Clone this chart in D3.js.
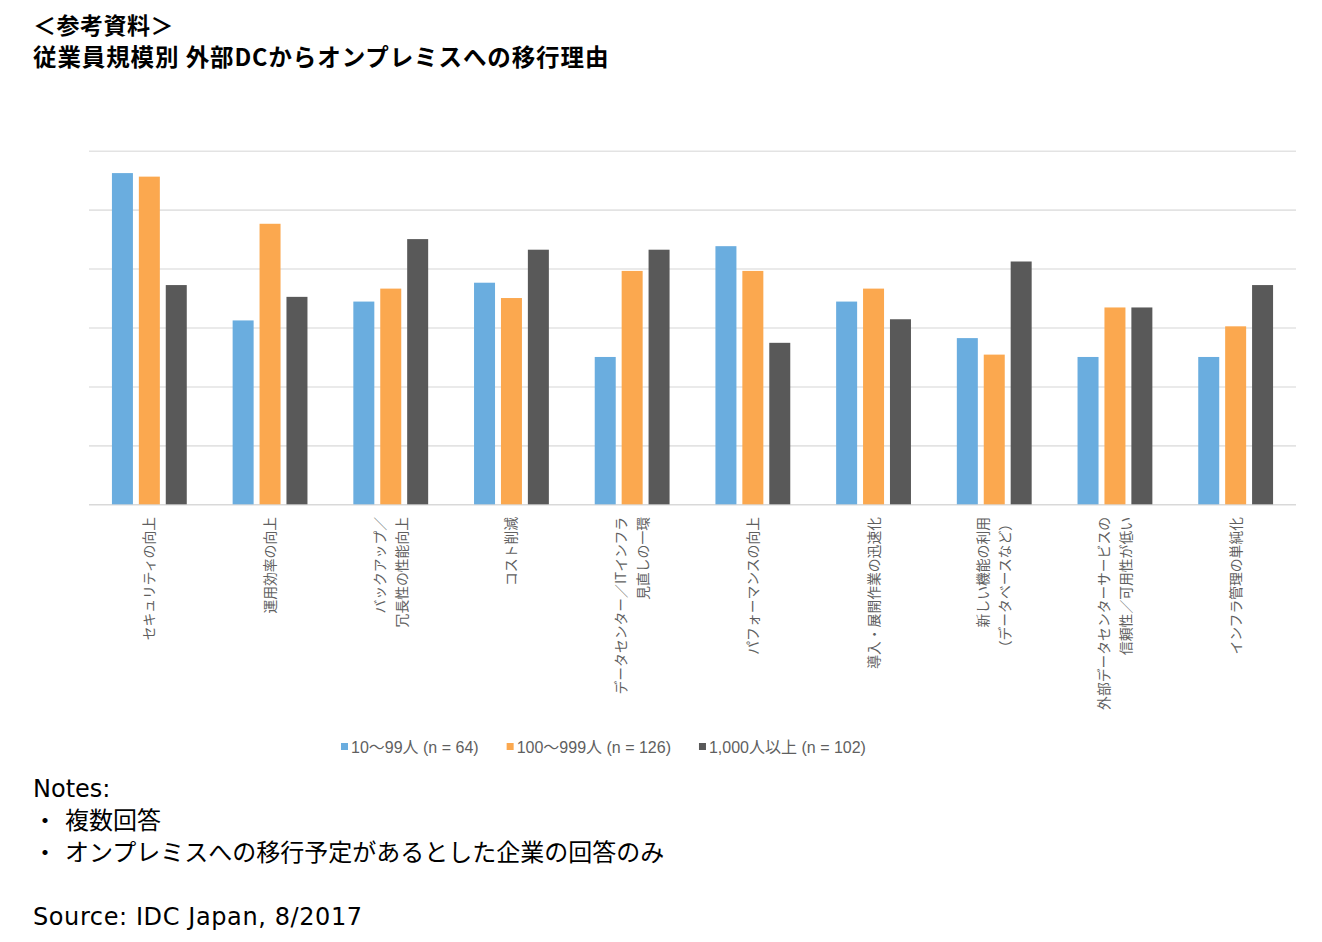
<!DOCTYPE html>
<html><head><meta charset="utf-8">
<script src="https://cdn.jsdelivr.net/npm/d3@7/dist/d3.min.js"></script>
<style>
body{margin:0;background:#fff;}
svg{display:block;}
</style></head>
<body>
<svg id="c" width="1322" height="942"></svg>
<script>
const categories = [
  ["セキュリティの向上"],
  ["運用効率の向上"],
  ["バックアップ／","冗長性の性能向上"],
  ["コスト削減"],
  ["データセンター／ITインフラ","見直しの一環"],
  ["パフォーマンスの向上"],
  ["導入・展開作業の迅速化"],
  ["新しい機能の利用","（データベースなど）"],
  ["外部データセンターサービスの","信頼性／可用性が低い"],
  ["インフラ管理の単純化"]
];
const seriesNames = ["10～99人 (n = 64)", "100～999人 (n = 126)", "1,000人以上 (n = 102)"];
const small  = [28.1, 15.6, 17.2, 18.8, 12.5, 21.9, 17.2, 14.1, 12.5, 12.5];
const medium = [27.8, 23.8, 18.3, 17.5, 19.8, 19.8, 18.3, 12.7, 16.7, 15.1];
const large  = [18.6, 17.6, 22.5, 21.6, 21.6, 13.7, 15.7, 20.6, 16.7, 18.6];
const gridTicks = [0, 5, 10, 15, 20, 25, 30];
const colors = ["#6aaddf", "#fba84f", "#595959"];

(function(){
const seriesValues = [small, medium, large];
const svg = d3.select("#c");
const pLeft = 89, pRight = 1296, pTop = 150.7, pBottom = 504.3;

// titles
svg.append("text").attr("x", 33).attr("y", 34)
  .attr("font-family", "'Noto Sans CJK JP'").attr("font-weight", "bold")
  .attr("font-size", 23).attr("letter-spacing", 0.5).attr("fill", "#000").text("＜参考資料＞");
svg.append("text").attr("x", 33).attr("y", 66)
  .attr("font-family", "'Noto Sans CJK JP'").attr("font-weight", "bold")
  .attr("font-size", 23.5).attr("letter-spacing", 0.9).attr("fill", "#000").text("従業員規模別 外部DCからオンプレミスへの移行理由");

const y = d3.scaleLinear().domain([0, 30]).range([pBottom, pTop]);
const idx = d3.range(categories.length);
const x0 = d3.scaleBand().domain(idx).range([pLeft, pRight]).paddingInner(0.38).paddingOuter(0.19);
const x1 = d3.scaleBand().domain(d3.range(3)).range([0, x0.bandwidth()]).paddingInner(0.22).paddingOuter(0);

// gridlines
const gAxis = svg.append("g").attr("transform", `translate(${pLeft},0)`)
  .call(d3.axisLeft(y).tickValues(gridTicks).tickSize(-(pRight - pLeft)).tickFormat(""));
gAxis.select(".domain").remove();
gAxis.selectAll(".tick line").attr("stroke", "#e3e3e3").attr("stroke-width", 1.6);
gAxis.selectAll(".tick").filter(d => d === 0).select("line").attr("stroke", "#d9d9d9");

// bars
const groups = svg.append("g").selectAll("g").data(idx).join("g")
  .attr("transform", d => `translate(${x0(d)},0)`);
groups.selectAll("rect").data(i => seriesValues.map((s, k) => ({k, v: s[i]}))).join("rect")
  .attr("x", d => x1(d.k))
  .attr("width", x1.bandwidth())
  .attr("y", d => y(d.v))
  .attr("height", d => y(0) - y(d.v))
  .attr("fill", d => colors[d.k]);

// category labels (rotated)
const lh = 22;
const labs = svg.append("g").selectAll("text").data(idx).join("text")
  .attr("transform", i => `translate(${x0(i) + x0.bandwidth() / 2},517) rotate(-90)`)
  .attr("text-anchor", "end")
  .attr("font-family", "'Noto Sans CJK JP'")
  .attr("font-size", 13.8)
  .attr("fill", "#5f5f5f");
labs.each(function(i) {
  const lines = categories[i];
  const t = d3.select(this);
  lines.forEach((ln, j) => {
    const off = (j - (lines.length - 1) / 2) * lh;
    t.append("tspan").attr("x", 0).attr("y", off).attr("dy", "0.36em").text(ln);
  });
});

// legend
let lx = 341;
const ly = 747;
seriesNames.forEach((n, k) => {
  svg.append("rect").attr("x", lx).attr("y", ly - 4).attr("width", 7).attr("height", 7).attr("fill", colors[k]);
  const t = svg.append("text").attr("x", lx + 10).attr("y", ly).attr("dy", "0.35em")
    .attr("font-family", "'Liberation Sans', Arial, 'Noto Sans CJK JP'")
    .attr("font-size", 16).attr("fill", "#5f5f5f").text(n);
  lx += 10 + t.node().getComputedTextLength() + 28;
});

// notes
const notesFont = "'DejaVu Sans'";
svg.append("text").attr("x", 33).attr("y", 797)
  .attr("font-family", notesFont).attr("font-size", 24).attr("fill", "#000").text("Notes:");
[["複数回答", 829], ["オンプレミスへの移行予定があるとした企業の回答のみ", 861]].forEach(([s, yy]) => {
  svg.append("text").attr("x", 33).attr("y", yy)
    .attr("font-family", "'Noto Sans CJK JP'").attr("font-size", 24).attr("fill", "#000").text("・");
  svg.append("text").attr("x", 65).attr("y", yy)
    .attr("font-family", "'Noto Sans CJK JP'").attr("font-size", 24).attr("fill", "#000").text(s);
});
svg.append("text").attr("x", 33).attr("y", 925)
  .attr("font-family", notesFont).attr("font-size", 24).attr("letter-spacing", 0.6).attr("fill", "#000").text("Source: IDC Japan, 8/2017");
})();
</script>
</body></html>
